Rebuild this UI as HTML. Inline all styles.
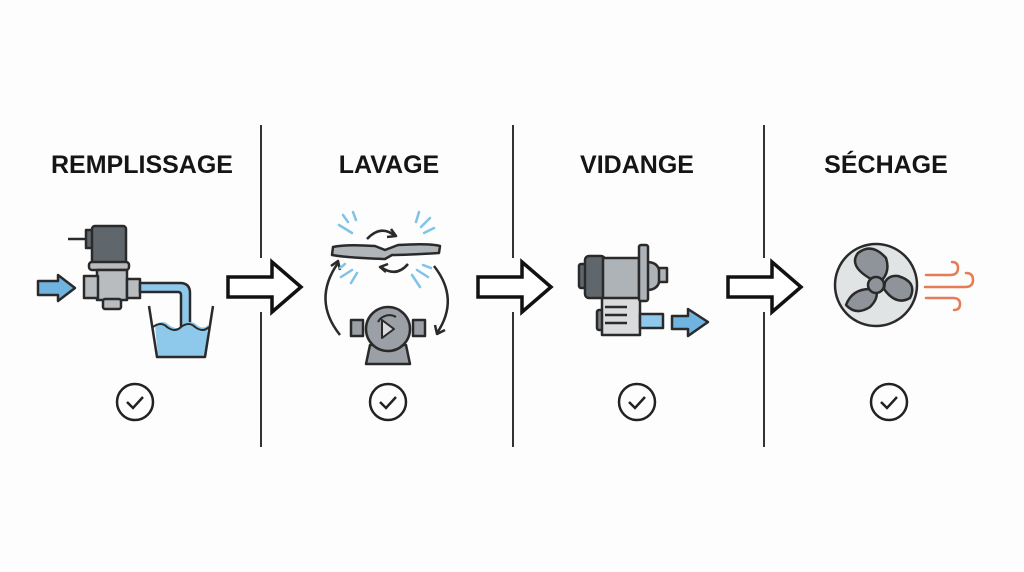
<!DOCTYPE html>
<html><head><meta charset="utf-8"><style>
html,body{margin:0;padding:0;background:#fdfdfd;}
svg{display:block}
text{font-family:"Liberation Sans",sans-serif;font-weight:bold;font-size:25px;fill:#151515;text-anchor:middle}
</style></head><body>
<svg width="1024" height="572" viewBox="0 0 1024 572" xmlns="http://www.w3.org/2000/svg">
<rect width="1024" height="572" fill="#fdfdfd"/>
<g stroke="#333" stroke-width="2">
<line x1="261" y1="125" x2="261" y2="258"/><line x1="261" y1="312" x2="261" y2="447"/>
<line x1="513" y1="125" x2="513" y2="258"/><line x1="513" y1="312" x2="513" y2="447"/>
<line x1="764" y1="125" x2="764" y2="258"/><line x1="764" y1="312" x2="764" y2="447"/>
</g>
<text x="142" y="173" textLength="182" lengthAdjust="spacingAndGlyphs">REMPLISSAGE</text>
<text x="389" y="173">LAVAGE</text>
<text x="637" y="173">VIDANGE</text>
<text x="886" y="173">SÉCHAGE</text>
<!-- big arrows -->
<g fill="#fff" stroke="#111" stroke-width="3.5" stroke-linejoin="miter">
<path d="M228 277 H272 V262 L301 287 L272 312 V297 H228 Z"/>
<path d="M478 277 H522 V262 L551 287 L522 312 V297 H478 Z"/>
<path d="M728 277 H772 V262 L801 287 L772 312 V297 H728 Z"/>
</g>
<!-- checks -->
<g fill="none" stroke="#222" stroke-width="2.5">
<circle cx="135" cy="402" r="18"/><path d="M127 402 l6 6 l10 -11"/>
<circle cx="388" cy="402" r="18"/><path d="M380 402 l6 6 l10 -11"/>
<circle cx="637" cy="402" r="18"/><path d="M629 402 l6 6 l10 -11"/>
<circle cx="889" cy="402" r="18"/><path d="M881 402 l6 6 l10 -11"/>
</g>
<!-- Remplissage -->
<g stroke="#2a2a2a" stroke-width="2.5" stroke-linejoin="round">
<line x1="68" y1="239" x2="90" y2="239"/>
<rect x="86" y="230" width="10" height="18" fill="#5f676d"/>
<rect x="92" y="226" width="34" height="38" rx="3" fill="#5f676d"/>
<rect x="89" y="262" width="40" height="8" rx="3" fill="#b8bcbf"/>
<rect x="97" y="270" width="30" height="30" fill="#b8bcbf"/>
<rect x="84" y="276" width="14" height="22" fill="#b8bcbf"/>
<rect x="127" y="279" width="13" height="19" fill="#b8bcbf"/>
<rect x="103" y="299" width="18" height="10" rx="2" fill="#b8bcbf"/>
<path d="M140 283 H180 Q190 283 190 293 V328 H181 V295 Q181 292 178 292 H140 Z" fill="#8ec8ea"/>
<path d="M38 281 H58 V275 L75 288 L58 301 V295 H38 Z" fill="#6fb3e0"/>
<path d="M155 325 q8 -6 14 0 q8 6 14 0 q8 -6 14 0 q6 5 11 0 L205 357 H158 Z" fill="#8ec8ea" stroke="none"/>
<path d="M149 306 L157 357 H205 L213 306" fill="none"/>
<path d="M153 327 q8 -6 14 0 q8 6 14 0 q8 -6 14 0 q8 6 14 0" fill="none" stroke-width="2"/>
</g>
<!-- Lavage -->
<g stroke="#2a2a2a" stroke-width="2.5" stroke-linejoin="round" fill="none">
<path d="M333 247 Q345 244 375 246 L385 250 L398 245 Q430 243 440 246 L439 253 Q405 255 392 255 L385 259 Q350 258 332 255 Z" fill="#b0b5b9"/>
<path d="M367 239 q14 -15 28 -3"/><path d="M391 229 l5 7 l-9 1" />
<path d="M408 264 q-12 14 -27 3"/><path d="M386 272 l-6 -5 l8 -3"/>
<path d="M340 335 q-28 -35 -2 -72"/><path d="M331 266 l7 -5 l2 9"/>
<path d="M434 266 q26 33 3 67"/><path d="M445 330 l-8 4 l-2 -9"/>
<rect x="351" y="320" width="12" height="16" fill="#9aa0a5"/>
<rect x="413" y="320" width="12" height="16" fill="#9aa0a5"/>
<path d="M370 345 L366 364 H410 L406 345 Z" fill="#9aa0a5"/>
<circle cx="388" cy="329" r="22" fill="#9aa0a5"/>
<path d="M378 322 a13 13 0 0 1 18 -5" stroke-width="2"/>
<path d="M382 320 v18 l12 -9 Z" fill="#d8dadc" stroke-width="2"/>
</g>
<g stroke="#7fc4e6" stroke-width="2.5" stroke-linecap="round">
<line x1="343" y1="215" x2="348" y2="222"/><line x1="339" y1="225" x2="352" y2="233"/><line x1="353" y1="212" x2="356" y2="220"/>
<line x1="419" y1="212" x2="416" y2="222"/><line x1="430" y1="218" x2="421" y2="227"/><line x1="434" y1="228" x2="424" y2="233"/>
<line x1="341" y1="277" x2="352" y2="270"/><line x1="351" y1="283" x2="357" y2="273"/><line x1="340" y1="268" x2="345" y2="264"/>
<line x1="417" y1="270" x2="428" y2="277"/><line x1="412" y1="275" x2="420" y2="287"/><line x1="423" y1="265" x2="431" y2="268"/>
</g>
<!-- Vidange -->
<g stroke="#2a2a2a" stroke-width="2.5" stroke-linejoin="round">
<rect x="597" y="310" width="10" height="20" rx="2" fill="#7b8186"/>
<rect x="602" y="297" width="38" height="38" fill="#d9dbdd"/>
<line x1="605" y1="307" x2="627" y2="307"/><line x1="605" y1="315" x2="627" y2="315"/><line x1="605" y1="323" x2="627" y2="323"/>
<rect x="640" y="314" width="23" height="14" fill="#8ec8ea"/>
<path d="M672 316 H688 V309 L708 322 L688 336 V329 H672 Z" fill="#6fb3e0"/>
<rect x="579" y="264" width="10" height="24" rx="2" fill="#5f676d"/>
<rect x="585" y="256" width="20" height="42" rx="4" fill="#5f676d"/>
<rect x="603" y="258" width="36" height="40" fill="#aeb3b7"/>
<path d="M647 262 Q660 262 660 276 Q660 290 647 290 Z" fill="#aeb3b7"/>
<rect x="659" y="268" width="8" height="14" fill="#aeb3b7"/>
<rect x="639" y="245" width="9" height="56" rx="2" fill="#aeb3b7"/>
</g>
<!-- Sechage -->
<g stroke="#2a2a2a" stroke-width="2.5" stroke-linejoin="round">
<circle cx="876" cy="285" r="41" fill="#e1e4e5"/>
<path d="M871 279 Q848 266 858 253 Q872 242 886 258 Q890 270 883 279 Z" fill="#8e9499"/>
<path d="M884 289 Q896 306 910 298 Q918 282 898 276 Q889 275 885 282 Z" fill="#8e9499"/>
<path d="M870 289 Q852 289 846 305 Q856 316 870 307 Q879 298 876 290 Z" fill="#8e9499"/>
<circle cx="876" cy="285" r="8" fill="#8e9499"/>
</g>
<g stroke="#e47d55" stroke-width="2.5" fill="none" stroke-linecap="round">
<path d="M926 275 H950 q8 0 8 -7 q0 -6 -6 -6"/>
<path d="M925 287 H965 q8 0 8 -7 q0 -7 -7 -7"/>
<path d="M926 298 H953 q7 0 7 6 q0 6 -6 6"/>
</g>
</svg>
</body></html>
